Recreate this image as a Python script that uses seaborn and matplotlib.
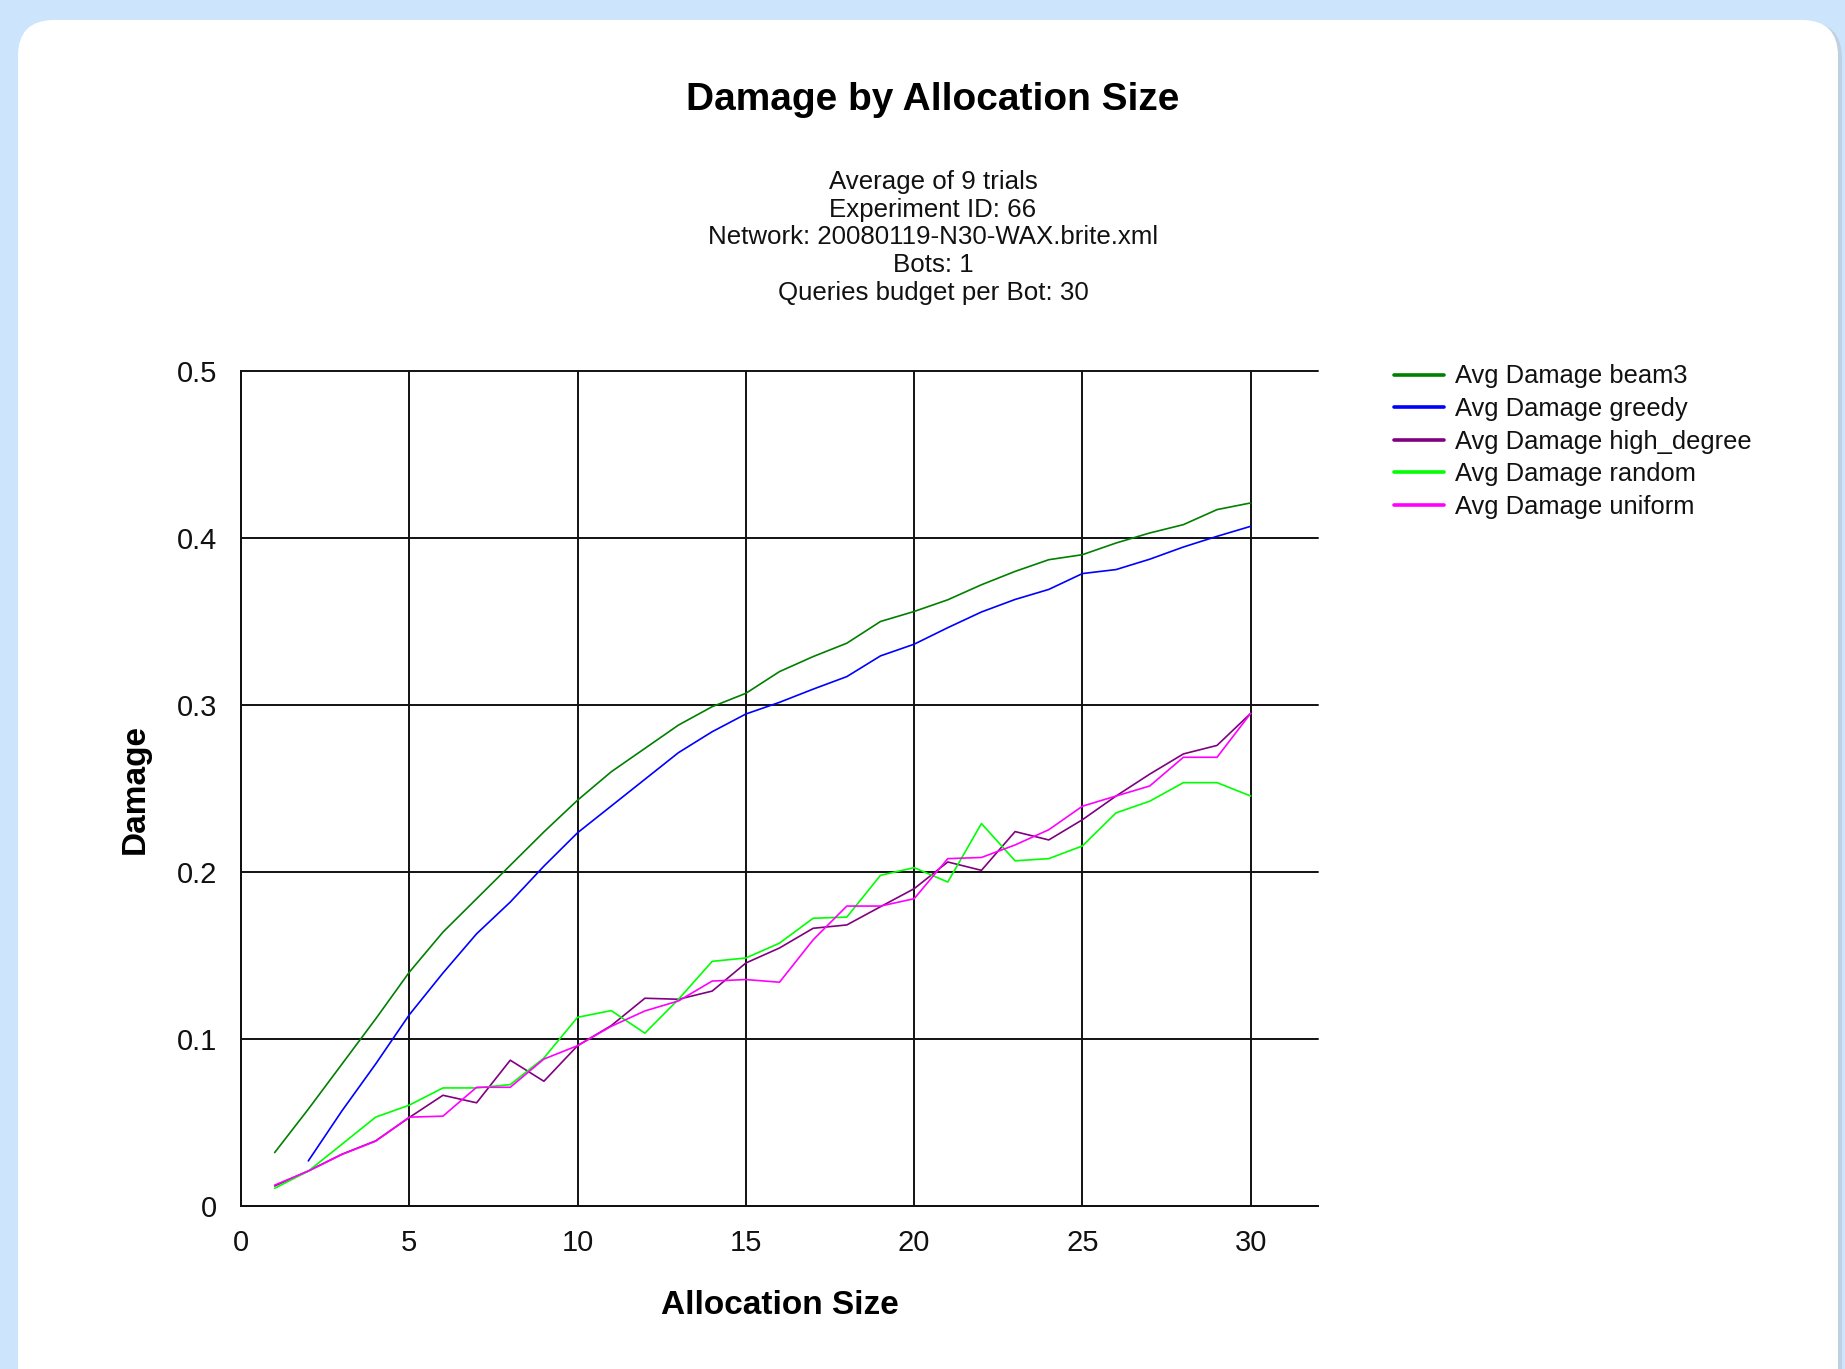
import numpy as np
import pandas as pd
import matplotlib
matplotlib.use("Agg")
import matplotlib.pyplot as plt
from matplotlib.patches import FancyBboxPatch
import seaborn as sns

# ---------------- data ----------------
sizes = list(range(1, 31))
beam3 = [0.032, 0.058, 0.085, 0.112, 0.140, 0.164, 0.184, 0.204, 0.224, 0.243,
         0.260, 0.274, 0.288, 0.299, 0.307, 0.320, 0.329, 0.337, 0.350, 0.356,
         0.363, 0.372, 0.380, 0.387, 0.390, 0.397, 0.403, 0.408, 0.417, 0.421]
greedy = [np.nan, 0.027, 0.057, 0.085, 0.1145, 0.1395, 0.163, 0.182, 0.2035, 0.2235,
          0.2395, 0.2555, 0.2715, 0.284, 0.2946, 0.3016, 0.3095, 0.317, 0.3294, 0.3364,
          0.3463, 0.3557, 0.3632, 0.3692, 0.3787, 0.3811, 0.3873, 0.3946, 0.401, 0.407]
high_degree = [0.012, 0.021, 0.031, 0.039, 0.053, 0.0663, 0.0618, 0.0873, 0.0747, 0.096,
               0.108, 0.1244, 0.1238, 0.1287, 0.1455, 0.1545, 0.1663, 0.1683, 0.1792, 0.190,
               0.206, 0.201, 0.2242, 0.2192, 0.2313, 0.2455, 0.2586, 0.2707, 0.2758, 0.295]
random_ = [0.0106, 0.0209, 0.037, 0.0532, 0.0604, 0.0707, 0.0707, 0.0727, 0.0886, 0.113,
           0.117, 0.1035, 0.1238, 0.1465, 0.1485, 0.1574, 0.1723, 0.173, 0.198, 0.2026,
           0.194, 0.229, 0.2067, 0.208, 0.2156, 0.2354, 0.2424, 0.2535, 0.2535, 0.2455]
uniform = [0.0125, 0.0209, 0.0309, 0.0388, 0.0532, 0.0538, 0.0711, 0.0711, 0.088, 0.096,
           0.1076, 0.1168, 0.1228, 0.1347, 0.1356, 0.134, 0.1594, 0.1796, 0.1796, 0.1840,
           0.208, 0.2087, 0.2162, 0.2253, 0.2394, 0.2455, 0.2515, 0.2687, 0.2687, 0.295]

series_names = ["Avg Damage beam3", "Avg Damage greedy", "Avg Damage high_degree",
                "Avg Damage random", "Avg Damage uniform"]
series_values = [beam3, greedy, high_degree, random_, uniform]
series_colors = ["#008000", "#0000ff", "#800080", "#00ff00", "#ff00ff"]

x_ticks = [0, 5, 10, 15, 20, 25, 30]
y_ticks = [0, 0.1, 0.2, 0.3, 0.4, 0.5]
y_tick_labels = ["0", "0.1", "0.2", "0.3", "0.4", "0.5"]

title = "Damage by Allocation Size"
subtitle_lines = ["Average of 9 trials", "Experiment ID: 66",
                  "Network: 20080119-N30-WAX.brite.xml", "Bots: 1",
                  "Queries budget per Bot: 30"]
x_label = "Allocation Size"
y_label = "Damage"

# ---------------- build table ----------------
rows = []
for name, vals in zip(series_names, series_values):
    for s, v in zip(sizes, vals):
        if not np.isnan(v):
            rows.append({"size": s, "damage": v, "series": name})
df = pd.DataFrame(rows)

# ---------------- style ----------------
sns.set_style("white")
plt.rcParams["font.family"] = ["Liberation Sans", "DejaVu Sans"]

W, H = 1845, 1369
fig = plt.figure(figsize=(W / 100, H / 100), dpi=100)
fig.patch.set_facecolor("#cce4fc")

# card with shadow (pixel coordinates)
shadow = FancyBboxPatch((22, -80), 1820, 1369 - 20 + 80 - 2,
                        boxstyle="round,pad=0,rounding_size=36",
                        transform=None, facecolor="#b8c4d0", edgecolor="none",
                        alpha=0.6, zorder=-2)
card = FancyBboxPatch((18, -80), 1820, 1369 - 20 + 80,
                      boxstyle="round,pad=0,rounding_size=36",
                      transform=None, facecolor="white", edgecolor="none", zorder=-1)
fig.patches.extend([shadow, card])

ax_left, ax_right = 241 / W, 1318 / W
ax_bottom, ax_top = 1 - 1206 / H, 1 - 371 / H
ax = fig.add_axes([ax_left, ax_bottom, ax_right - ax_left, ax_top - ax_bottom])
ax.set_zorder(2)
ax.set_facecolor("none")

palette = dict(zip(series_names, series_colors))
sns.lineplot(data=df, x="size", y="damage", hue="series", hue_order=series_names,
             palette=palette, linewidth=1.2, ax=ax, legend="auto")

ax.set_xlim(0, 32)
ax.set_ylim(0, 0.5)
ax.set_xticks(x_ticks)
ax.set_yticks(y_ticks)
ax.set_yticklabels(y_tick_labels)
ax.grid(True, color="#111111", linewidth=1.4)
ax.set_axisbelow(True)
for gl in ax.get_xgridlines() + ax.get_ygridlines():
    gl.set_clip_on(False)
for side in ["top", "right"]:
    ax.spines[side].set_visible(False)
for side in ["left", "bottom"]:
    ax.spines[side].set_color("#111111")
    ax.spines[side].set_linewidth(1.4)
ax.tick_params(axis="both", direction="out", length=13, width=1.4, color="#111111",
               labelsize=21, labelcolor="#111111")
ax.tick_params(axis="x", pad=3.5)
ax.tick_params(axis="y", pad=4)

ax.set_xlabel(x_label, fontsize=24, fontweight="bold", color="black")
ax.set_ylabel(y_label, fontsize=24, fontweight="bold", color="black")
ax.xaxis.set_label_coords(0.5, (1206 - 1290) / 835)
ax.yaxis.set_label_coords((150.5 - 241) / 1077, 0.5)

# legend
handles, labels = ax.get_legend_handles_labels()
if ax.get_legend() is not None:
    ax.get_legend().remove()
leg = fig.legend(handles, labels, loc="upper left",
                 bbox_to_anchor=(1394 / W, 1 - 364.5 / H), bbox_transform=fig.transFigure,
                 frameon=False, fontsize=18.4, handlelength=1.95, handletextpad=0.45,
                 labelspacing=0.335, borderpad=0, borderaxespad=0)
for ln in leg.get_lines():
    ln.set_linewidth(2.6)
for t in leg.get_texts():
    t.set_color("#111111")

# title and subtitle
cx = 933 / W
fig.text(cx, 1 - 100 / H, title, ha="center", va="center", fontsize=28,
         fontweight="bold", color="black")
sub_y = [181.5, 209.5, 237.5, 265, 293]
for line, yy in zip(subtitle_lines, sub_y):
    fig.text(cx, 1 - yy / H, line, ha="center", va="center", fontsize=18.6, color="#111111")

fig.savefig("out.png", dpi=100, facecolor=fig.get_facecolor())
